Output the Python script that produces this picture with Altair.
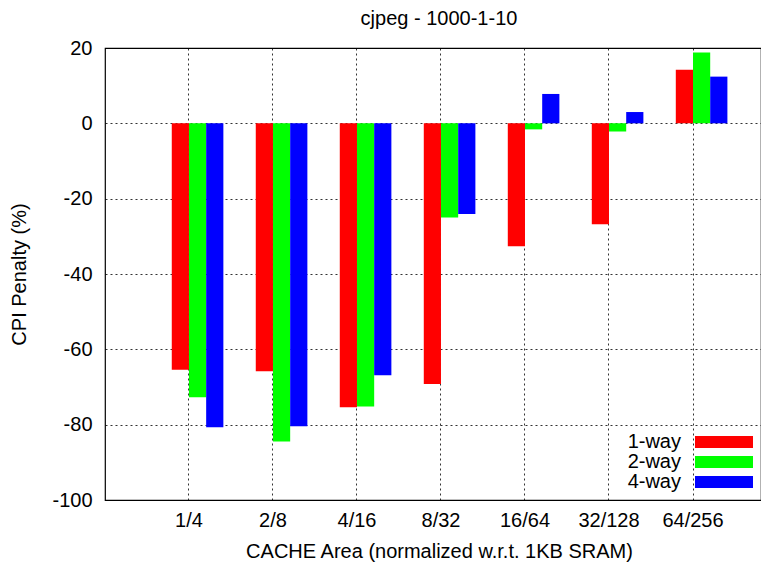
import altair as alt
import pandas as pd

categories = ["1/4", "2/8", "4/16", "8/32", "16/64", "32/128", "64/256"]
series = ["1-way", "2-way", "4-way"]
one_way = [-65.4, -65.8, -75.4, -69.2, -32.6, -26.8, 14.2]
two_way = [-72.7, -84.5, -75.2, -25.0, -1.6, -2.2, 18.8]
four_way = [-80.7, -80.4, -66.9, -24.1, 7.8, 3.0, 12.4]
colors = ["#ff0000", "#00ff00", "#0000ff"]
y_ticks = [-100, -80, -60, -40, -20, 0, 20]

rows = []
for name, vals in zip(series, [one_way, two_way, four_way]):
    for c, v in zip(categories, vals):
        rows.append({"area": c, "way": name, "cpi": v})
df = pd.DataFrame(rows)

FONT = "Liberation Sans"

chart = (
    alt.Chart(df)
    .mark_bar()
    .encode(
        x=alt.X(
            "area:N",
            sort=categories,
            scale=alt.Scale(paddingInner=0.181, paddingOuter=0.495, align=0.596),
            axis=alt.Axis(
                title="CACHE Area (normalized w.r.t. 1KB SRAM)",
                labelAngle=0,
                labelFontSize=20,
                labelFont=FONT,
                labelColor="black",
                labelPadding=10,
                ticks=False,
                tickSize=0,
                domain=False,
                bandPosition=0.5,
                grid=True,
                gridColor="black",
                gridDash=[2, 3],
                gridOpacity=0.8,
                titleFontSize=20,
                titleFont=FONT,
                titleFontWeight="normal",
                titleColor="black",
                titleX=334,
                titleAlign="center",
                titleY=51,
                titleBaseline="middle",
            ),
        ),
        xOffset=alt.XOffset(
            "way:N",
            scale=alt.Scale(domain=[" "] + series, paddingInner=0, paddingOuter=0),
        ),
        y=alt.Y(
            "cpi:Q",
            scale=alt.Scale(domain=[-100, 20], nice=False, zero=False),
            axis=alt.Axis(
                title="CPI Penalty (%)",
                values=y_ticks,
                labelExpr="'' + datum.value",
                labelFontSize=20,
                labelFont=FONT,
                labelColor="black",
                labelPadding=13,
                ticks=False,
                tickSize=0,
                domain=False,
                grid=True,
                gridColor="black",
                gridDash=[2, 3],
                gridOpacity=0.8,
                titleFontSize=20,
                titleFont=FONT,
                titleFontWeight="normal",
                titleColor="black",
                titleX=-86,
                titleBaseline="middle",
            ),
        ),
        color=alt.Color(
            "way:N",
            scale=alt.Scale(domain=series, range=colors),
            legend=alt.Legend(
                title=None,
                orient="none",
                legendX=609,
                legendY=384,
                symbolType="M-4.833,-1H4.833V1H-4.833Z",
                symbolSize=144,
                symbolStrokeWidth=0,
                symbolOpacity=1,
                labelAlign="right",
                labelOffset={"expr": "-53"},
                labelFontSize=20,
                labelFont=FONT,
                labelColor="black",
                rowPadding=0,
                padding=0,
            ),
        ),
    )
    .properties(
        width=656,
        height=452,
        title=alt.TitleParams(
            "cjpeg - 1000-1-10",
            fontSize=20,
            font=FONT,
            fontWeight="normal",
            color="black",
            anchor="middle",
            offset=9,
            dx=6,
        ),
        autosize=alt.AutoSizeParams(type="none"),
        padding={"left": 97, "top": 40, "right": 0, "bottom": 63},
    )
    .configure_view(stroke="black", strokeWidth=1.2)
)

chart.save("out.html", embed_options={"renderer": "svg", "actions": False})
